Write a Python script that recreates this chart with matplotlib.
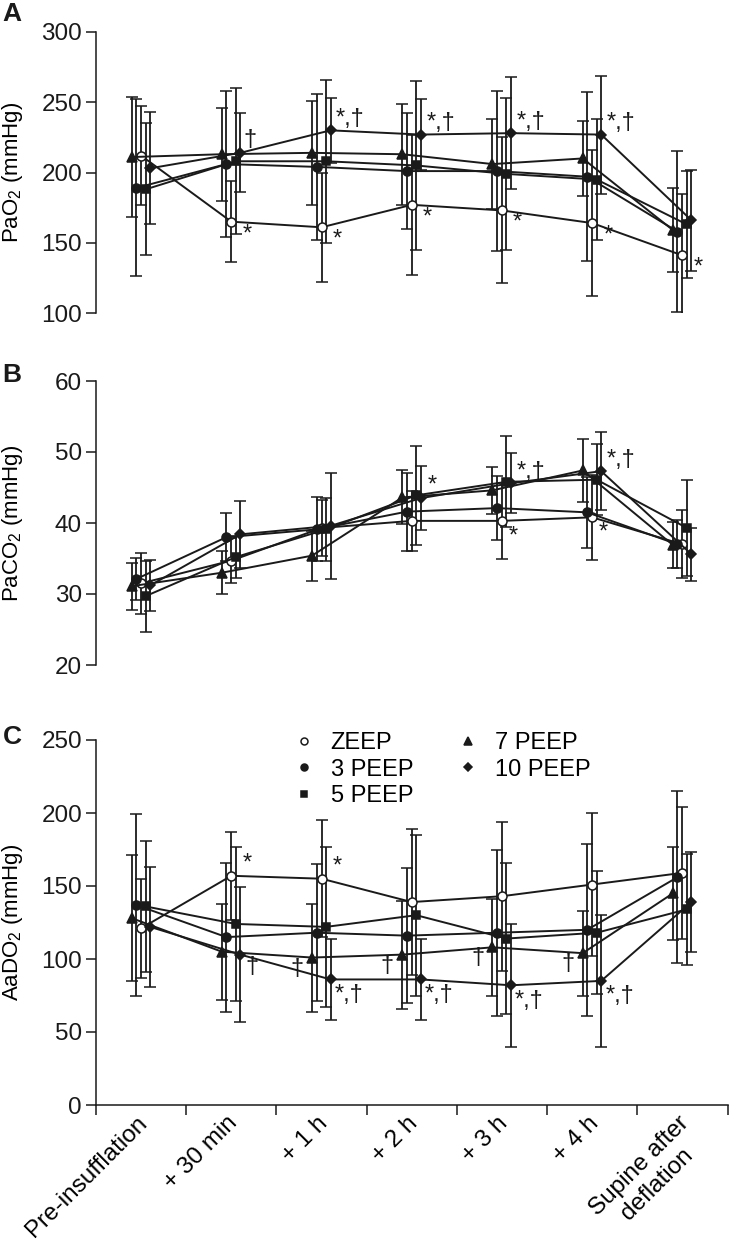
import numpy as np
import matplotlib
matplotlib.use("Agg")
import matplotlib.pyplot as plt
import matplotlib.transforms as mtrans
from matplotlib.lines import Line2D

plt.rcParams['font.family'] = ['Liberation Sans', 'DejaVu Sans']
plt.rcParams['mathtext.fontset'] = 'custom'
plt.rcParams['mathtext.rm'] = 'Liberation Sans'
plt.rcParams['mathtext.it'] = 'Liberation Sans:italic'

# time points
times = ["Pre-insufflation", "+ 30 min", "+ 1 h", "+ 2 h", "+ 3 h", "+ 4 h",
         "Supine after\ndeflation"]
groups = ["ZEEP", "3 PEEP", "5 PEEP", "7 PEEP", "10 PEEP"]

# A: PaO2 (mean, SD)
pao2_mean = {
    "ZEEP":    [212, 165, 161, 177, 173, 164, 141],
    "3 PEEP":  [189, 206, 204, 201, 201, 197, 158],
    "5 PEEP":  [188, 208, 208, 205, 199, 195, 163],
    "7 PEEP":  [211, 213, 214, 213, 206, 210, 159],
    "10 PEEP": [203, 214, 230, 227, 228, 227, 166],
}
pao2_sd = {
    "ZEEP":    [35, 29, 39, 50, 52, 52, 44],
    "3 PEEP":  [63, 52, 52, 41, 57, 60, 57],
    "5 PEEP":  [47, 52, 58, 60, 54, 43, 38],
    "7 PEEP":  [43, 33, 37, 36, 32, 27, 30],
    "10 PEEP": [40, 28, 23, 25, 40, 42, 36],
}

# B: PaCO2
paco2_mean = {
    "ZEEP":    [31.5, 34.7, 39.3, 40.3, 40.3, 40.8, 37.0],
    "3 PEEP":  [32.1, 38.0, 39.1, 41.6, 42.1, 41.5, 37.0],
    "5 PEEP":  [29.7, 35.2, 39.1, 43.9, 45.8, 46.1, 39.3],
    "7 PEEP":  [31.1, 33.0, 35.4, 43.6, 44.6, 47.4, 36.9],
    "10 PEEP": [31.2, 38.4, 39.6, 43.5, 45.6, 47.3, 35.6],
}
paco2_sd = {
    "ZEEP":    [4.3, 3.2, 4.0, 4.2, 5.3, 6.0, 4.8],
    "3 PEEP":  [3.0, 3.4, 4.5, 5.5, 4.5, 5.0, 3.4],
    "5 PEEP":  [5.0, 3.0, 4.4, 7.0, 6.4, 5.0, 6.7],
    "7 PEEP":  [3.3, 3.0, 3.5, 3.8, 3.3, 4.5, 3.3],
    "10 PEEP": [3.6, 4.7, 7.5, 4.5, 4.2, 5.5, 3.7],
}

# C: AaDO2
aado2_mean = {
    "ZEEP":    [121, 157, 155, 139, 143, 151, 159],
    "3 PEEP":  [137, 115, 118, 116, 118, 120, 156],
    "5 PEEP":  [136, 124, 122, 130, 114, 118, 134],
    "7 PEEP":  [128, 105, 101, 103, 108, 104, 145],
    "10 PEEP": [122, 103, 86, 86, 82, 85, 139],
}
aado2_sd = {
    "ZEEP":    [34, 30, 40, 50, 51, 49, 45],
    "3 PEEP":  [62, 51, 47, 46, 57, 59, 59],
    "5 PEEP":  [45, 53, 55, 55, 52, 42, 38],
    "7 PEEP":  [43, 33, 37, 37, 33, 29, 32],
    "10 PEEP": [41, 46, 28, 28, 42, 45, 34],
}

# significance marks: (group, time index, text, dx pt, dy pt)
marks_a = [("ZEEP", i, "*", 8, -9) for i in range(1, 7)] + \
          [("10 PEEP", 1, "\u2020", 2, 9)] + \
          [("10 PEEP", i, "*,\u2020", 4, 8) for i in range(2, 6)]
marks_b = [("10 PEEP", 3, "*", 5, 9),
           ("10 PEEP", 4, "*,\u2020", 4, 8),
           ("10 PEEP", 5, "*,\u2020", 4, 8),
           ("ZEEP", 4, "*", 5, -11),
           ("ZEEP", 5, "*", 5, -11)]
marks_c = [("ZEEP", 1, "*", 8, 9), ("ZEEP", 2, "*", 8, 9),
           ("10 PEEP", 1, "\u2020", 4, -9)] + \
          [("7 PEEP", i, "\u2020", -6, -8) for i in range(2, 6)] + \
          [("10 PEEP", i, "*,\u2020", 3, -11) for i in range(2, 6)]

styles = {
    "ZEEP":    dict(marker="o", ms=6.5, mfc="white", off=0.0),
    "3 PEEP":  dict(marker="o", ms=6.5, mfc="#1a1a1a", off=-0.055),
    "5 PEEP":  dict(marker="s", ms=5.5, mfc="#1a1a1a", off=0.05),
    "7 PEEP":  dict(marker="^", ms=7, mfc="#1a1a1a", off=-0.105),
    "10 PEEP": dict(marker="D", ms=5.5, mfc="#1a1a1a", off=0.1),
}
ink = "#1a1a1a"

W, H = 729, 1248
fig = plt.figure(figsize=(W / 100, H / 100), dpi=100)
left = 96 / W
width = 631.5 / W


def make_ax(top_px, bot_px):
    return fig.add_axes([left, 1 - bot_px / H, width, (bot_px - top_px) / H])


def draw(ax, means, sds, marks):
    x = np.arange(len(times))
    pos = {}
    for g in groups:
        st = styles[g]
        xx = x + st["off"]
        ax.errorbar(xx, means[g], yerr=sds[g], color=ink, lw=1.4,
                    marker=st["marker"], ms=st["ms"], mfc=st["mfc"], mec=ink,
                    mew=1.1, ecolor=ink, elinewidth=1.3, capsize=4,
                    capthick=1.3, label=g, zorder=3)
        pos[g] = xx
    for g, i, txt, dx, dy in marks:
        ax.annotate(txt, (pos[g][i], means[g][i]), xytext=(dx, dy),
                    textcoords="offset points", ha="left" if dx >= 0 else "right",
                    va="center", fontsize=17, color=ink)
    ax.set_xlim(-0.5, 6.5)
    ax.spines["top"].set_visible(False)
    ax.spines["right"].set_visible(False)
    ax.tick_params(axis="y", labelsize=17.5, length=7, width=1.1, colors=ink, pad=3)
    ax.spines["left"].set_linewidth(1.1)
    ax.spines["left"].set_color(ink)


axA = make_ax(32, 313)
draw(axA, pao2_mean, pao2_sd, marks_a)
axA.set_ylim(100, 300)
axA.set_yticks([100, 150, 200, 250, 300])
axA.set_ylabel("PaO$_2$ (mmHg)", fontsize=16)

axB = make_ax(381, 665)
draw(axB, paco2_mean, paco2_sd, marks_b)
axB.set_ylim(20, 60)
axB.set_yticks([20, 30, 40, 50, 60])
axB.set_ylabel("PaCO$_2$ (mmHg)", fontsize=16)

axC = make_ax(740, 1105)
draw(axC, aado2_mean, aado2_sd, marks_c)
axC.set_ylim(0, 250)
axC.set_yticks([0, 50, 100, 150, 200, 250])
axC.set_ylabel("AaDO$_2$ (mmHg)", fontsize=16)

for ax in (axA, axB):
    ax.spines["bottom"].set_visible(False)
    ax.set_xticks([])

axC.spines["bottom"].set_linewidth(1.1)
axC.spines["bottom"].set_color(ink)
axC.set_xticks(np.arange(-0.5, 7.0, 1.0))
axC.set_xticklabels([])
axC.set_xticks(np.arange(len(times)), minor=True)
axC.set_xticklabels(times, minor=True, rotation=45, ha="right", va="top",
                    rotation_mode="anchor", fontsize=17.5, multialignment="center")
axC.tick_params(axis="x", which="major", length=7, width=1.1, colors=ink)
axC.tick_params(axis="x", which="minor", length=0, pad=5)
shift = mtrans.ScaledTranslation(-5 / 100, 0, fig.dpi_scale_trans)
for lab in axC.get_xticklabels(minor=True):
    lab.set_transform(lab.get_transform() + shift)

for ax in (axA, axB, axC):
    ax.yaxis.set_label_coords(-0.112, 0.5)

leg_h = [Line2D([], [], ls="none", marker=styles[g]["marker"],
                ms=styles[g]["ms"] - 1.5, mfc=styles[g]["mfc"], mec=ink, mew=1.1)
         for g in groups]
axC.legend(leg_h, groups, ncol=2, loc="upper left", bbox_to_anchor=(0.31, 1.022),
           frameon=False, fontsize=17, handlelength=1.0, handletextpad=0.65,
           columnspacing=1.8, labelspacing=0.2, borderpad=0, borderaxespad=0)

for lab, ypx in (("A", 14), ("B", 375), ("C", 737)):
    fig.text(12 / W, 1 - ypx / H, lab, fontsize=19, fontweight="bold",
             ha="center", va="center", color=ink)

fig.savefig("out.png", dpi=100)
